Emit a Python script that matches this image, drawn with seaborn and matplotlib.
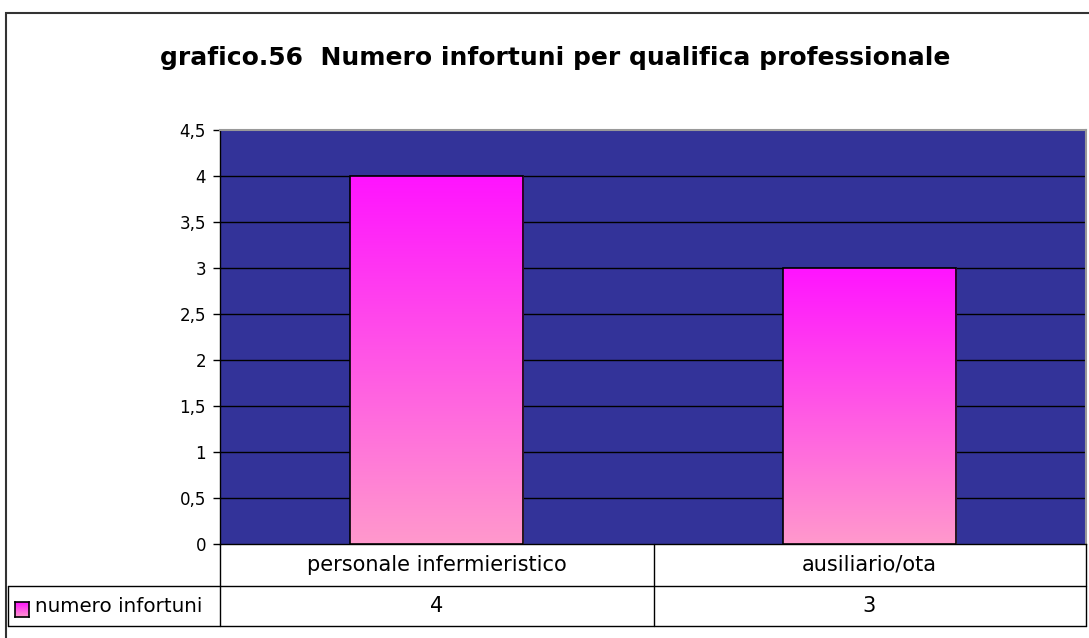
import numpy as np
import pandas as pd
import matplotlib
matplotlib.use("Agg")
import matplotlib.pyplot as plt
import matplotlib.transforms as mtransforms
from matplotlib.colors import LinearSegmentedColormap
from matplotlib.patches import Rectangle
from matplotlib.lines import Line2D
import seaborn as sns

categories = ["personale infermieristico", "ausiliario/ota"]
values = [4, 3]
series_name = "numero infortuni"
title = "grafico.56  Numero infortuni per qualifica professionale"
yticks = [0, 0.5, 1, 1.5, 2, 2.5, 3, 3.5, 4, 4.5]
ytick_labels = ["0", "0,5", "1", "1,5", "2", "2,5", "3", "3,5", "4", "4,5"]

sns.set_theme(style="white")
plt.rcParams["font.family"] = ["DejaVu Sans"]

W, H = 1089, 638
fig = plt.figure(figsize=(W / 100, H / 100), dpi=100)
fig.patch.set_facecolor("white")


def fx(px):
    return px / W


def fy(py):
    return 1 - py / H


# outer chart frame (runs off the right and bottom edges)
fig.add_artist(Rectangle((fx(6), fy(700)), fx(1200), fy(13) - fy(700),
                         transform=fig.transFigure, fill=False,
                         edgecolor="#333333", lw=1.5))

ax = fig.add_axes([fx(220), fy(544), fx(866), fy(130) - fy(544)])
ax.set_facecolor("#333399")

df = pd.DataFrame({"categoria": categories, "valore": values})
sns.barplot(data=df, x="categoria", y="valore", ax=ax, width=0.4,
            color="#ff14ff", edgecolor="black", linewidth=1.2, zorder=3)

ax.set_yticks(yticks)
ax.set_yticklabels(ytick_labels, fontsize=12, color="black")
ax.set_xticks([])
ax.set_xlabel("")
ax.set_ylabel("")
ax.tick_params(axis="y", length=5, width=1, color="black", left=True, pad=5)
for y in yticks[1:-1]:
    ax.axhline(y, color="black", lw=1, zorder=1)

for side in ["top", "right"]:
    ax.spines[side].set_color("#999999")
    ax.spines[side].set_linewidth(1.5)
for side in ["left", "bottom"]:
    ax.spines[side].set_color("black")
    ax.spines[side].set_linewidth(1)

# vertical gradient inside each bar
cmap = LinearSegmentedColormap.from_list("pink", ["#ff99cc", "#ff14ff"])
grad = np.linspace(0, 1, 256).reshape(-1, 1)
for patch in ax.patches:
    x0, y0 = patch.get_x(), patch.get_y()
    w, h = patch.get_width(), patch.get_height()
    im = ax.imshow(grad, cmap=cmap, origin="lower", aspect="auto",
                   extent=[x0, x0 + w, y0, y0 + h], zorder=3.5)
    im.set_clip_path(patch)
    patch.set_facecolor("none")
    patch.set_zorder(4)
ax.set_xlim(-0.5, len(categories) - 0.5)
ax.set_ylim(0, 4.5)

# data table under the plot
tbl_lines = [
    ((220, 544), (220, 626)),
    ((654, 544), (654, 626)),
    ((1086, 544), (1086, 626)),
    ((8, 586), (1086, 586)),
    ((8, 626), (1086, 626)),
    ((8, 586), (8, 626)),
]
for (x0, y0), (x1, y1) in tbl_lines:
    fig.add_artist(Line2D([fx(x0), fx(x1)], [fy(y0), fy(y1)],
                          transform=fig.transFigure, color="black", lw=1))

blend = mtransforms.blended_transform_factory(ax.transAxes, fig.transFigure)
n = len(categories)
for i, (cat, val) in enumerate(zip(categories, values)):
    xc = (i + 0.5) / n
    ax.text(xc, fy(565), cat, transform=blend, ha="center", va="center",
            fontsize=15, color="black", clip_on=False)
    ax.text(xc, fy(606), str(val), transform=blend, ha="center",
            va="center", fontsize=15, color="black", clip_on=False)

# legend key in the table
key_ax = fig.add_axes([fx(15), fy(617), fx(14), fy(602) - fy(617)])
key_ax.imshow(grad, cmap=cmap, origin="lower", aspect="auto",
              extent=[0, 1, 0, 1])
key_ax.set_xticks([])
key_ax.set_yticks([])
for s in key_ax.spines.values():
    s.set_color("black")
    s.set_linewidth(1.2)
fig.text(fx(35), fy(607), series_name, ha="left", va="center",
         fontsize=14.3, color="black")

fig.text(fx(555), fy(58), title, ha="center", va="center",
         fontsize=18, fontweight="bold", color="black")

fig.savefig("out.png", dpi=100, facecolor="white")
